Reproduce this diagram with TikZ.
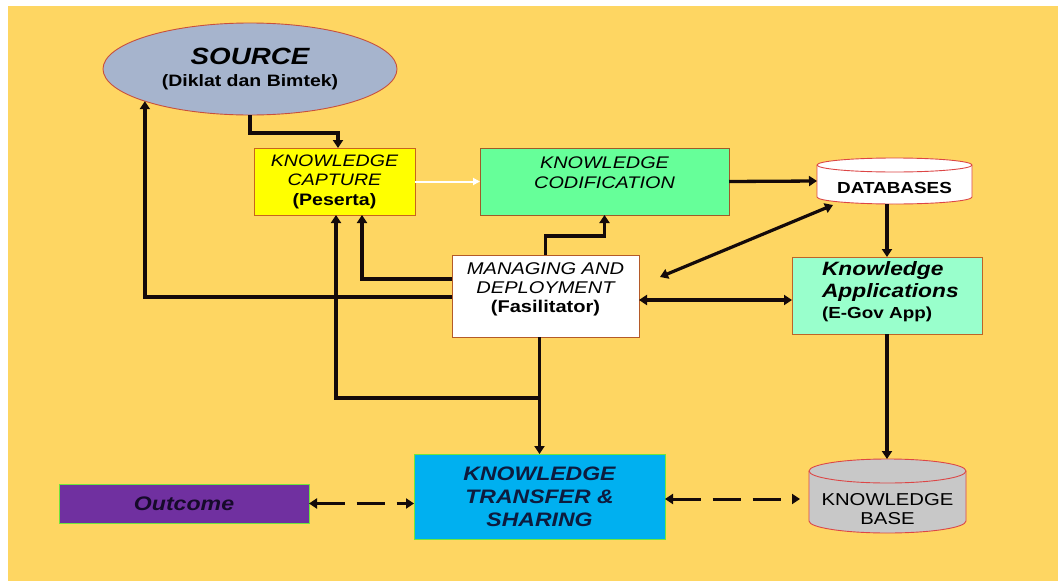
\documentclass[tikz,border=0pt]{standalone}
\usepackage{fontspec}
\setmainfont{Liberation Sans}[FakeStretch=1.18]
\usetikzlibrary{arrows.meta,shapes.geometric,calc}
\definecolor{bgyel}{RGB}{254,214,98}
\definecolor{srcfill}{RGB}{166,180,205}
\definecolor{srcline}{RGB}{200,80,60}
\definecolor{capfill}{RGB}{255,255,0}
\definecolor{capline}{RGB}{200,100,30}
\definecolor{codfill}{RGB}{102,255,153}
\definecolor{codline}{RGB}{160,90,40}
\definecolor{mdline}{RGB}{180,90,40}
\definecolor{appfill}{RGB}{153,255,204}
\definecolor{appline}{RGB}{190,100,40}
\definecolor{trfill}{RGB}{0,176,240}
\definecolor{grnline}{RGB}{110,230,60}
\definecolor{trtext}{RGB}{13,27,62}
\definecolor{outfill}{RGB}{112,48,160}
\definecolor{outtext}{RGB}{22,10,42}
\definecolor{kbfill}{RGB}{200,200,200}
\definecolor{cylline}{RGB}{220,70,70}
\definecolor{linecol}{RGB}{20,10,10}
\begin{document}
\begin{tikzpicture}[x=1pt,y=-1pt,
  box/.style={draw, line width=0.9pt, inner sep=0pt, outer sep=0pt, align=center},
  txt/.style={inner sep=0pt, outer sep=0pt, align=center},
  ghost/.style={inner sep=0pt, outer sep=0pt},
  conn/.style={draw=linecol, line width=3.3pt, -{Triangle[length=8pt,width=10pt]}},
  biconn/.style={draw=linecol, line width=3.2pt, {Triangle[length=8pt,width=10pt]}-{Triangle[length=8pt,width=10pt]}},
  dconn/.style={draw=linecol, line width=3pt, dash pattern=on 28pt off 12pt, {Triangle[length=8pt,width=10pt]}-{Triangle[length=8pt,width=10pt]}},
]
\useasboundingbox (0,0) rectangle (1058,581);
\fill[white] (0,0) rectangle (1058,581);
\fill[bgyel] (8,6) rectangle (1058,581);

% SOURCE
\node[ellipse, draw=srcline, fill=srcfill, line width=0.9pt, minimum width=294pt, minimum height=92pt,
      inner sep=0pt, outer sep=0pt, align=center, font=\fontsize{16.5}{22}\selectfont] (src) at (250,69)
  {{\fontsize{23.5}{22}\selectfont\bfseries\itshape SOURCE}\\
   {\bfseries (Diklat dan Bimtek)}};

% KNOWLEDGE CAPTURE
\node[box, fill=capfill, draw=capline, minimum width=161pt, minimum height=67pt,
      font=\fontsize{16.6}{19.5}\selectfont] (cap) at (334.5,181.5)
  {\itshape KNOWLEDGE\\\itshape CAPTURE\\\bfseries (Peserta)};

% KNOWLEDGE CODIFICATION
\node[box, fill=codfill, draw=codline, minimum width=249pt, minimum height=67pt] (cod) at (604.5,181.5) {};
\node[txt, font=\fontsize{16.8}{20}\selectfont\itshape] (codt) at (604.5,173) {KNOWLEDGE\\CODIFICATION};

% DATABASES cylinder
\filldraw[fill=white, draw=cylline, line width=0.9pt]
  (817,165) -- (817,197) arc[start angle=180, end angle=360, x radius=77.5pt, y radius=7pt]
  -- (972,165) arc[start angle=0, end angle=180, x radius=77.5pt, y radius=7pt] -- cycle;
\draw[cylline, line width=0.9pt] (817,165) arc[start angle=180, end angle=360, x radius=77.5pt, y radius=7pt];
\node[ghost, minimum width=155pt, minimum height=46pt] (db) at (894.5,181) {};
\node[txt, font=\fontsize{16}{18}\selectfont\bfseries] (dbt) at (894.5,188) {DATABASES};

% MANAGING AND DEPLOYMENT
\node[box, fill=white, draw=mdline, minimum width=187pt, minimum height=82pt] (md) at (545.5,296) {};
\node[txt, font=\fontsize{17}{19}\selectfont] (mdt) at (545.5,289)
  {\itshape MANAGING AND\\\itshape DEPLOYMENT\\\bfseries (Fasilitator)};

% Knowledge Applications
\node[box, fill=appfill, draw=appline, minimum width=190pt, minimum height=77pt] (apps) at (887,295.5) {};
\node[txt, align=left, anchor=west, font=\fontsize{19.3}{21.5}\selectfont] (appt) at (822,292)
  {\bfseries\itshape Knowledge\\\bfseries\itshape Applications\\{\fontsize{16}{18}\selectfont\bfseries (E-Gov App)}};

% KNOWLEDGE TRANSFER & SHARING
\node[box, fill=trfill, draw=grnline, minimum width=251pt, minimum height=85pt, text=trtext,
      font=\fontsize{19.5}{23}\selectfont\bfseries\itshape] (tr) at (539.5,496.5)
  {KNOWLEDGE\\TRANSFER \&\\SHARING};

% Outcome
\node[box, fill=outfill, draw=grnline, minimum width=250pt, minimum height=39pt, text=outtext,
      font=\fontsize{19.6}{22}\selectfont\bfseries\itshape] (out) at (184,503.5) {Outcome};

% KNOWLEDGE BASE cylinder
\filldraw[fill=kbfill, draw=cylline, line width=0.9pt]
  (809,471) -- (809,521) arc[start angle=180, end angle=360, x radius=78.5pt, y radius=12pt]
  -- (966,471) arc[start angle=0, end angle=180, x radius=78.5pt, y radius=12pt] -- cycle;
\draw[cylline, line width=0.9pt] (809,471) arc[start angle=180, end angle=360, x radius=78.5pt, y radius=12pt];
\node[ghost, minimum width=157pt, minimum height=74pt] (kb) at (887.5,496) {};
\node[txt, font=\fontsize{17.2}{19}\selectfont] (kbt) at (887.5,509) {KNOWLEDGE\\BASE};

% free ends
\coordinate (mdtip) at (660,277);
\coordinate (dbend) at (833,205);

% connectors
\draw[conn] (src.south) -- (src.south |- 0,133) -| ([xshift=3.5pt]cap.north);
\draw[line width=2pt, white, -{Triangle[length=7pt,width=7pt]}] (cap.east) -- (cod.west);
\draw[conn] (cod.east) -- (db.west);
\draw[conn] (apps.north |- db.south) -- (apps.north);
\draw[conn] (apps.south) -- (apps.south |- kb.north);
\draw[conn] (md.north) -- (md.north |- 0,236) -| (cod.south);
\draw[conn] (md.west |- 0,279) -| ([xshift=27.5pt]cap.south);
\draw[conn] (md.west |- 0,297) -| (src.197.36);
\draw[conn] (tr.north |- md.south) -- (tr.north);
\draw[conn] (tr.north |- 0,398) -| ([xshift=1.5pt]cap.south);
\draw[biconn] (mdtip) -- (dbend);
\draw[biconn] ([yshift=-4pt]md.east) -- ([yshift=-4pt]md.east -| apps.west);
\draw[dconn, shorten >=9pt] (tr.east |- 0,499) -- (kb.west |- 0,499);
\draw[dconn] (out.east) -- (out.east -| tr.west);
\end{tikzpicture}
\end{document}
